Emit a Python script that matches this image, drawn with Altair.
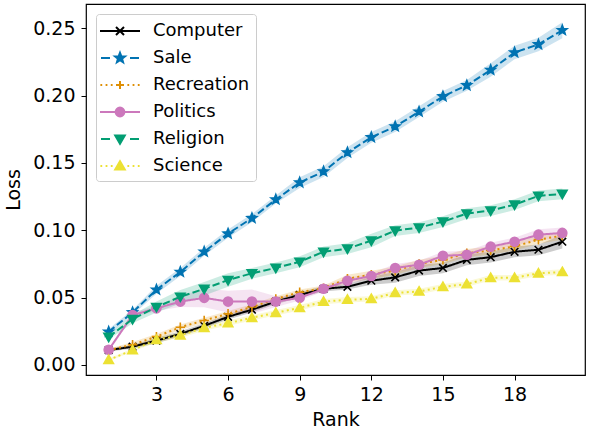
import math
import altair as alt
import pandas as pd

# ---------------- data ----------------
ranks = list(range(1, 21))
series_names = ["Computer", "Sale", "Recreation", "Politics", "Religion", "Science"]
series_colors = ["#000000", "#0173b2", "#de8f05", "#cc78bc", "#029e73", "#ece133"]

computer = [0.011, 0.0135, 0.018, 0.023, 0.029, 0.0357, 0.041, 0.047, 0.052, 0.0565,
            0.058, 0.0625, 0.065, 0.070, 0.072, 0.078, 0.080, 0.084, 0.0855, 0.0915]
computer_sd = [0.001, 0.0015, 0.002, 0.002, 0.002, 0.002, 0.002, 0.002, 0.002, 0.002,
               0.002, 0.003, 0.004, 0.004, 0.004, 0.004, 0.004, 0.004, 0.004, 0.005]

sale = [0.0246, 0.039, 0.0558, 0.069, 0.084, 0.0975, 0.109, 0.1228, 0.1354, 0.1436,
        0.1577, 0.169, 0.177, 0.188, 0.1994, 0.2076, 0.219, 0.232, 0.238, 0.2485]
sale_sd = [0.002, 0.002, 0.003, 0.003, 0.003, 0.003, 0.003, 0.003, 0.004, 0.004,
           0.004, 0.004, 0.004, 0.004, 0.004, 0.004, 0.005, 0.005, 0.005, 0.006]

recreation = [0.011, 0.015, 0.021, 0.028, 0.033, 0.038, 0.043, 0.049, 0.054, 0.057,
              0.064, 0.067, 0.070, 0.075, 0.078, 0.083, 0.085, 0.088, 0.093, 0.096]
recreation_sd = [0.001, 0.002, 0.002, 0.002, 0.002, 0.002, 0.002, 0.002, 0.002, 0.002,
                 0.003, 0.003, 0.003, 0.003, 0.003, 0.003, 0.003, 0.003, 0.003, 0.003]

politics = [0.0112, 0.037, 0.042, 0.047, 0.0498, 0.047, 0.047, 0.047, 0.0498, 0.0565,
            0.0625, 0.066, 0.072, 0.0744, 0.081, 0.0818, 0.0878, 0.0915, 0.0967, 0.098]
politics_sd = [0.001, 0.002, 0.002, 0.004, 0.007, 0.008, 0.009, 0.004, 0.002, 0.002,
               0.002, 0.002, 0.003, 0.003, 0.003, 0.003, 0.003, 0.003, 0.004, 0.004]

religion = [0.0208, 0.034, 0.043, 0.0506, 0.0565, 0.063, 0.068, 0.072, 0.0766, 0.084,
            0.0863, 0.0923, 0.0997, 0.102, 0.1064, 0.1124, 0.1146, 0.119, 0.1255, 0.127]
religion_sd = [0.002, 0.003, 0.004, 0.005, 0.005, 0.005, 0.004, 0.004, 0.004, 0.004,
               0.004, 0.005, 0.004, 0.004, 0.004, 0.004, 0.004, 0.004, 0.004, 0.004]

science = [0.0037, 0.011, 0.0186, 0.022, 0.0275, 0.031, 0.035, 0.0387, 0.0424, 0.047,
           0.0484, 0.049, 0.0535, 0.0545, 0.058, 0.060, 0.0647, 0.0647, 0.068, 0.069]
science_sd = [0.001, 0.001, 0.002, 0.002, 0.002, 0.002, 0.002, 0.002, 0.002, 0.002,
              0.002, 0.002, 0.002, 0.002, 0.002, 0.002, 0.002, 0.002, 0.002, 0.002]

x_ticks = [3, 6, 9, 12, 15, 18]
y_ticks = [0.0, 0.05, 0.10, 0.15, 0.20, 0.25]

means = [computer, sale, recreation, politics, religion, science]
sds = [computer_sd, sale_sd, recreation_sd, politics_sd, religion_sd, science_sd]

rows = []
for name, m, s in zip(series_names, means, sds):
    for r, v, d in zip(ranks, m, s):
        rows.append({"series": name, "rank": r, "loss": v, "lo": v - d, "hi": v + d})
df = pd.DataFrame(rows)

legend_df = pd.DataFrame({"series": series_names,
                          "rank": [None] * len(series_names),
                          "loss": [None] * len(series_names)})

# ---------------- marker shapes ----------------
def star_path(ro, ri):
    pts = []
    for i in range(10):
        ang = -math.pi / 2 + i * math.pi / 5
        rr = ro if i % 2 == 0 else ri
        pts.append((rr * math.cos(ang), rr * math.sin(ang)))
    return "M" + "L".join(f"{x:.3f},{y:.3f}" for x, y in pts) + "Z"

def circle_path(r):
    return f"M{r},0A{r},{r} 0 1,1 {-r},0A{r},{r} 0 1,1 {r},0Z"

xshape = "M-0.8,-0.8L0.8,0.8M-0.8,0.8L0.8,-0.8"
plus = "M-1,0L1,0M0,-1L0,1"
tri_down = "M-1,-0.75L1,-0.75L0,1Z"
tri_up = "M0,-1L1,0.75L-1,0.75Z"
plot_shapes = [xshape, star_path(1.05, 0.45), plus, circle_path(0.95), tri_down, tri_up]

# legend symbols: line segment + marker (unit = 10 px, line spans 40 px)
solid = "M-2,0L2,0"
dashed = "M-1.9,0L-1.0,0M1.0,0L1.9,0"
dotted = "".join(f"M{a:.3f},0L{a + 0.18:.3f},0" for a in [-1.96, -1.44, -0.92, 0.74, 1.26, 1.78])
k = 0.4
leg_markers = [
    f"M{-k},{-k}L{k},{k}M{-k},{k}L{k},{-k}",
    star_path(0.52, 0.22),
    f"M{-k},0L{k},0M0,{-k}L0,{k}",
    circle_path(0.44),
    "M-0.48,-0.36L0.48,-0.36L0,0.48Z",
    "M0,-0.48L0.48,0.36L-0.48,0.36Z",
]
leg_lines = [solid, dashed, dotted, solid, dashed, dotted]
legend_shapes = [l + m for l, m in zip(leg_lines, leg_markers)]

dashes = [[1, 0], [7.4, 3.2], [2, 3.3], [1, 0], [7.4, 3.2], [2, 3.3]]

FONT = "DejaVu Sans"

def cscale():
    return alt.Scale(domain=series_names, range=series_colors)

def legend_props():
    return alt.Legend(
        title=None, orient="top-left", offset=10, padding=6,
        strokeColor="#cccccc", fillColor="white", cornerRadius=3,
        labelFont=FONT, labelFontSize=18, labelColor="black",
        symbolSize=400, symbolStrokeWidth=2, symbolOffset=7, labelOffset=22,
        rowPadding=7, symbolOpacity=1,
    )

x_scale = alt.Scale(domain=[0.05, 20.95], nice=False, zero=False)
y_scale = alt.Scale(domain=[-0.0075, 0.268], nice=False, zero=False)
x_enc = alt.X("rank:Q", scale=x_scale, axis=alt.Axis(values=x_ticks, title="Rank", format="d"))
y_enc = alt.Y("loss:Q", scale=y_scale, axis=alt.Axis(values=y_ticks, title="Loss", format=".2f"))
ylo_enc = alt.Y("lo:Q", scale=y_scale, axis=alt.Axis(values=y_ticks, title="Loss", format=".2f"))

layers = []
for i, name in enumerate(series_names):
    base = alt.Chart(df).transform_filter(alt.datum.series == name)
    layers.append(base.mark_area(opacity=0.2, color=series_colors[i]).encode(
        x=x_enc, y=ylo_enc, y2="hi:Q"))
for i, name in enumerate(series_names):
    base = alt.Chart(df).transform_filter(alt.datum.series == name)
    line = base.mark_line(strokeWidth=2, color=series_colors[i],
                          strokeDash=dashes[i]).encode(x=x_enc, y=y_enc)
    pts = base.mark_point(filled=True, opacity=1, size=90, strokeWidth=1.6,
                          shape=plot_shapes[i], fill=series_colors[i],
                          stroke=series_colors[i]).encode(x=x_enc, y=y_enc)
    layers += [line, pts]

legend_layer = alt.Chart(legend_df).mark_point(filled=True, opacity=1, strokeWidth=2).encode(
    x=x_enc,
    y=y_enc,
    color=alt.Color("series:N", scale=cscale(), legend=legend_props()),
    stroke=alt.Stroke("series:N", scale=cscale(), legend=legend_props()),
    shape=alt.Shape("series:N", scale=alt.Scale(domain=series_names, range=legend_shapes),
                    legend=legend_props()),
)
layers.append(legend_layer)

chart = alt.layer(*layers).properties(
    width=499, height=371,
    autosize=alt.AutoSizeParams(type="none"),
    padding={"left": 86, "top": 4, "right": 5, "bottom": 57},
).configure_view(
    stroke="black", strokeWidth=1.2
).configure_axis(
    grid=False, domain=False, tickColor="black", tickSize=5, tickWidth=1,
    labelFont=FONT, labelFontSize=19, labelColor="black",
    titleFont=FONT, titleFontSize=19, titleColor="black", titleFontWeight="normal",
).configure_axisX(
    labelPadding=5, titlePadding=6
).configure_axisY(
    labelPadding=6, titlePadding=9
)

chart.save("out.html", embed_options={"renderer": "svg", "actions": False})
